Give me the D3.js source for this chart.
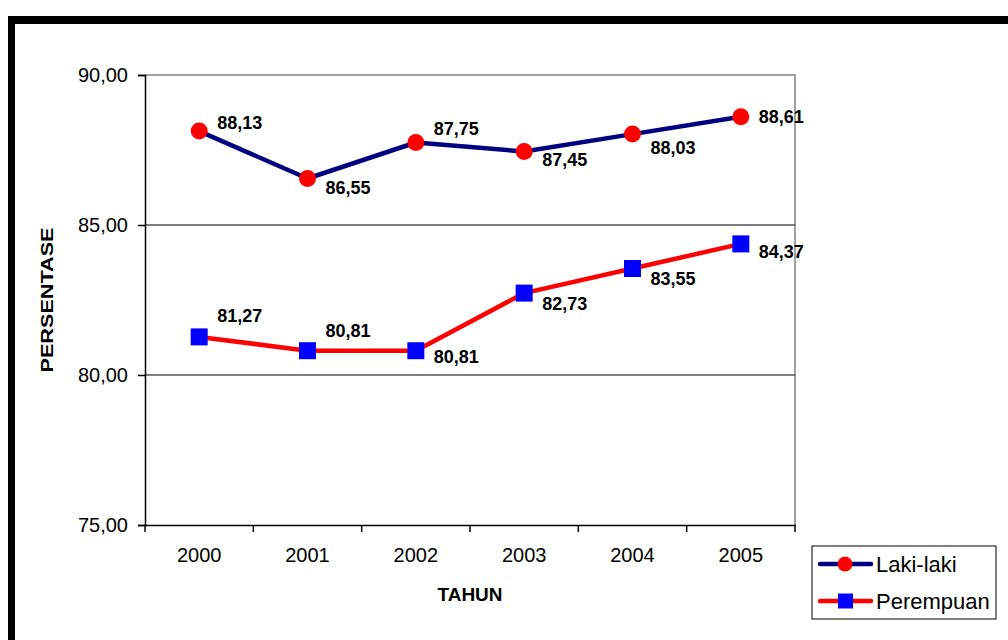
<!DOCTYPE html>
<html>
<head>
<meta charset="utf-8">
<script src="https://cdn.jsdelivr.net/npm/d3@7"></script>
<style>
  body { margin: 0; background: #fff; }
  svg { display: block; font-family: Arial, "Liberation Sans", sans-serif; }
</style>
</head>
<body>
<svg id="chart" width="1008" height="640"></svg>
<script>
let years = ['2000', '2001', '2002', '2003', '2004', '2005'];
let lakiLaki = [88.13, 86.55, 87.75, 87.45, 88.03, 88.61];
let perempuan = [81.27, 80.81, 80.81, 82.73, 83.55, 84.37];
let yTicks = [75, 80, 85, 90];

// label layout: vertical shift of each data label from its point (px)
const lakiDy = [-2.5, 15.5, -7.5, 14.5, 19.5, 6.5];
const perDy = [-14.5, -13.5, 12.5, 16.5, 16, 14.5];

const svg = d3.select('#chart');
const fmt = v => d3.format('.2f')(v).replace('.', ',');

// Frame (thick black top and left edges)
svg.append('rect').attr('x', 8).attr('y', 16).attr('width', 1000).attr('height', 8).attr('fill', '#000');
svg.append('rect').attr('x', 8).attr('y', 16).attr('width', 7).attr('height', 624).attr('fill', '#000');

const plotL = 145, plotR = 795, plotT = 75, plotB = 525;

const x = d3.scaleBand().domain(years).range([plotL, plotR]);
const y = d3.scaleLinear().domain([75, 90]).range([plotB, plotT]);

// plot border (grey top/right)
svg.append('path')
    .attr('d', `M${plotL},${plotT}H${plotR}V${plotB}`)
    .attr('fill', 'none').attr('stroke', '#808080').attr('stroke-width', 1.5);

// gridlines
svg.append('g').selectAll('line')
    .data(yTicks.filter(t => t > 75 && t < 90))
    .enter().append('line')
    .attr('x1', plotL).attr('x2', plotR)
    .attr('y1', d => y(d)).attr('y2', d => y(d))
    .attr('stroke', '#000').attr('stroke-width', 1);

// y axis
const yAxis = svg.append('g')
    .attr('transform', `translate(${plotL},0)`)
    .call(d3.axisLeft(y).tickValues(yTicks).tickFormat(fmt).tickSize(7).tickPadding(10));
yAxis.selectAll('text').attr('font-size', 20).attr('fill', '#000').attr('font-family', 'Arial, "Liberation Sans", sans-serif');
yAxis.selectAll('line, path').attr('stroke', '#000').attr('stroke-width', 1.5);

// x axis
const xAxis = svg.append('g')
    .attr('transform', `translate(0,${plotB})`)
    .call(d3.axisBottom(x).tickSize(0).tickPadding(23));
xAxis.selectAll('text').attr('font-size', 20).attr('fill', '#000').attr('font-family', 'Arial, "Liberation Sans", sans-serif');
xAxis.select('.domain').attr('stroke', '#000').attr('stroke-width', 1.5);
// category separator ticks
xAxis.selectAll('.sep')
    .data(years.concat(['end']))
    .enter().append('line')
    .attr('class', 'sep')
    .attr('x1', (d, i) => plotL + i * x.bandwidth())
    .attr('x2', (d, i) => plotL + i * x.bandwidth())
    .attr('y1', 0).attr('y2', 7)
    .attr('stroke', '#000').attr('stroke-width', 1.5);

// axis titles
svg.append('text')
    .attr('transform', `translate(53,300) rotate(-90)`)
    .attr('text-anchor', 'middle')
    .attr('font-size', 17).attr('font-weight', 'bold')
    .attr('textLength', 145).attr('lengthAdjust', 'spacingAndGlyphs')
    .text('PERSENTASE');
svg.append('text')
    .attr('x', 470).attr('y', 601)
    .attr('text-anchor', 'middle')
    .attr('font-size', 17.5).attr('font-weight', 'bold')
    .attr('textLength', 65).attr('lengthAdjust', 'spacingAndGlyphs')
    .text('TAHUN');

const cx = d => x(d) + x.bandwidth() / 2;
const line = d3.line().x((d, i) => cx(years[i])).y(d => y(d));

// Laki-laki series
svg.append('path').datum(lakiLaki)
    .attr('d', line).attr('fill', 'none')
    .attr('stroke', '#000080').attr('stroke-width', 4.5).attr('stroke-linejoin', 'round');
svg.append('g').selectAll('circle')
    .data(lakiLaki).enter().append('circle')
    .attr('cx', (d, i) => cx(years[i])).attr('cy', d => y(d))
    .attr('r', 8.5).attr('fill', '#ff0000');

// Perempuan series
svg.append('path').datum(perempuan)
    .attr('d', line).attr('fill', 'none')
    .attr('stroke', '#ff0000').attr('stroke-width', 4.5).attr('stroke-linejoin', 'round');
svg.append('g').selectAll('rect')
    .data(perempuan).enter().append('rect')
    .attr('x', (d, i) => cx(years[i]) - 8.5).attr('y', d => y(d) - 8.5)
    .attr('width', 17).attr('height', 17).attr('fill', '#0000ff');

// data labels
function labels(data, dy) {
    svg.append('g').selectAll('text')
        .data(data).enter().append('text')
        .attr('x', (d, i) => cx(years[i]) + 18)
        .attr('y', (d, i) => y(d) + dy[i])
        .attr('font-size', 18).attr('font-weight', 'bold')
        .text(d => fmt(d));
}
labels(lakiLaki, lakiDy);
labels(perempuan, perDy);

// legend
const lg = svg.append('g');
lg.append('rect').attr('x', 812).attr('y', 546).attr('width', 184).attr('height', 73)
    .attr('fill', '#fff').attr('stroke', '#000').attr('stroke-width', 1);
const legendItems = [
    { name: 'Laki-laki', line: '#000080', marker: 'circle', y: 564 },
    { name: 'Perempuan', line: '#ff0000', marker: 'square', y: 601 }
];
legendItems.forEach(it => {
    lg.append('line').attr('x1', 820).attr('x2', 871).attr('y1', it.y).attr('y2', it.y)
        .attr('stroke', it.line).attr('stroke-width', 4.5).attr('stroke-linecap', 'round');
    if (it.marker === 'circle') {
        lg.append('circle').attr('cx', 845).attr('cy', it.y).attr('r', 7.5).attr('fill', '#ff0000');
    } else {
        lg.append('rect').attr('x', 838).attr('y', it.y - 7.5).attr('width', 15).attr('height', 15).attr('fill', '#0000ff');
    }
    lg.append('text').attr('x', 876).attr('y', it.y + 8).attr('font-size', 22).text(it.name);
});
</script>
</body>
</html>
